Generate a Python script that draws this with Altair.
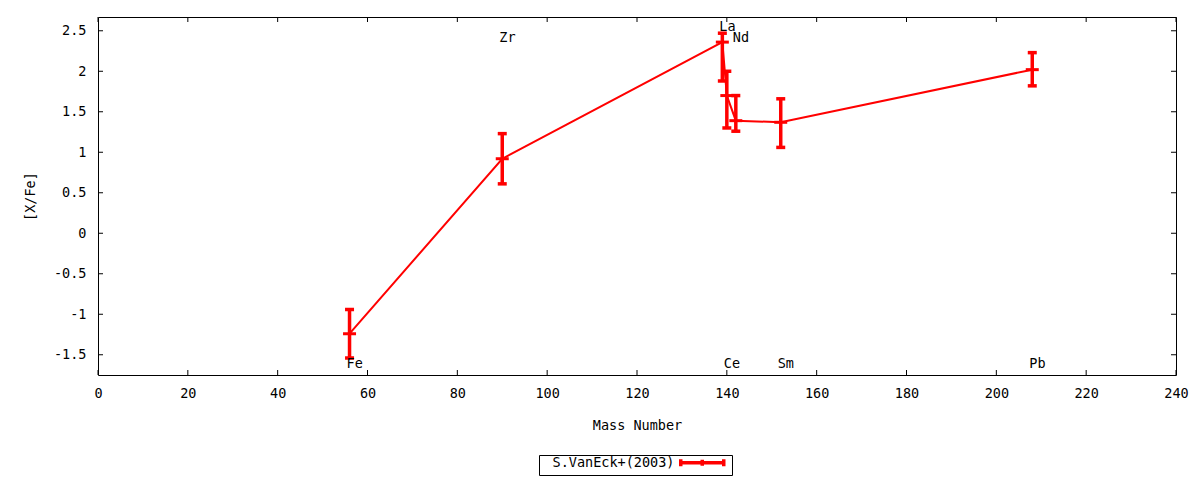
import altair as alt
import pandas as pd

# S.VanEck+(2003) abundances
elements = ["Fe", "Zr", "La", "Ce", "Nd", "Sm", "Pb"]
mass = [56, 90, 139, 140, 142, 152, 208]
xfe = [-1.24, 0.92, 2.36, 1.70, 1.39, 1.37, 2.02]
err_low = [-1.54, 0.61, 1.88, 1.30, 1.26, 1.06, 1.82]
err_high = [-0.94, 1.23, 2.47, 2.00, 1.70, 1.66, 2.23]

# element labels (data coordinates)
label_text = ["Fe", "Zr", "La", "Nd", "Ce", "Sm", "Pb"]
label_x = [56, 90, 139, 142, 140, 152, 208]
label_y = [-1.62, 2.41, 2.55, 2.41, -1.62, -1.62, -1.62]

x_ticks = [0, 20, 40, 60, 80, 100, 120, 140, 160, 180, 200, 220, 240]
y_ticks = [-1.5, -1, -0.5, 0, 0.5, 1, 1.5, 2, 2.5]

W, H = 1078, 358
RED = "#ff0000"
FONT = "DejaVu Sans Mono"
FS = 13.5

df = pd.DataFrame({
    "el": elements, "A": mass, "val": xfe,
    "lo": err_low, "hi": err_high,
    "series": "S.VanEck+(2003)",
})
labels = pd.DataFrame({"t": label_text, "A": label_x, "val": label_y})
xt = pd.DataFrame({"A": x_ticks})
yt = pd.DataFrame({"val": y_ticks})

xscale = alt.Scale(domain=[0, 240], nice=False, zero=False)
yscale = alt.Scale(domain=[-1.75, 2.67], nice=False, zero=False)
xaxis = alt.Axis(values=x_ticks, title="Mass Number", grid=False, ticks=False,
                 tickSize=0, domain=False, labelPadding=11, titlePadding=19,
                 labelFlush=False)
yaxis = alt.Axis(values=y_ticks, title="[X/Fe]", grid=False, ticks=False,
                 tickSize=0, domain=False, labelPadding=12, titlePadding=16,
                 labelExpr="datum.value", labelFlush=False)


def X(f="A"):
    return alt.X(f"{f}:Q", scale=xscale, axis=xaxis)


def Y(f="val"):
    return alt.Y(f"{f}:Q", scale=yscale, axis=yaxis)


base = alt.Chart(df)

# legend sample: an error-bar line, placed to the right of the label
legend_symbol = "M-21.5,0H21.5M-21.5,-3.5V3.5M21.5,-3.5V3.5M0,-3V3"

line = base.mark_line(strokeWidth=2).encode(
    x=X(), y=Y(),
    color=alt.Color("series:N", scale=alt.Scale(range=[RED]),
                    legend=alt.Legend(
                        title=None, orient="none", legendX=441, legendY=438,
                        strokeColor="black", padding=1,
                        labelOffset={"expr": "-156.5"}, symbolOffset=155.5,
                        symbolType=legend_symbol, symbolSize=4,
                        symbolStrokeWidth=3.5, symbolStrokeColor=RED,
                        symbolFillColor="transparent",
                        labelFont=FONT, labelFontSize=FS, labelColor="black",
                    )),
)

bars = base.mark_rule(strokeWidth=3.5, color=RED).encode(
    x=X(), y=Y("lo"), y2="hi:Q"
)
cap_lo = base.mark_tick(orient="horizontal", size=9, thickness=3.5,
                        color=RED, opacity=1).encode(x=X(), y=Y("lo"))
cap_hi = base.mark_tick(orient="horizontal", size=9, thickness=3.5,
                        color=RED, opacity=1).encode(x=X(), y=Y("hi"))
pts = base.mark_tick(orient="horizontal", size=13, thickness=3,
                     color=RED, opacity=1).encode(x=X(), y=Y())

text = alt.Chart(labels).mark_text(
    align="left", baseline="middle", dx=-3, font=FONT, fontSize=FS, color="black"
).encode(x=X(), y=Y(), text="t:N")

# inward ticks on all four sides
tb = alt.Chart(xt).mark_rule(color="black").encode(
    x=X(), y=alt.value(H), y2=alt.value(H - 5))
tt = alt.Chart(xt).mark_rule(color="black").encode(
    x=X(), y=alt.value(0), y2=alt.value(5))
tl = alt.Chart(yt).mark_rule(color="black").encode(
    y=Y(), x=alt.value(0), x2=alt.value(5))
tr = alt.Chart(yt).mark_rule(color="black").encode(
    y=Y(), x=alt.value(W), x2=alt.value(W - 5))

chart = (
    alt.layer(tb, tt, tl, tr, line, bars, cap_lo, cap_hi, pts, text)
    .properties(
        width=W, height=H,
        autosize=alt.AutoSizeParams(type="none"),
        padding={"left": 90, "top": 9, "right": 16, "bottom": 105},
    )
    .configure_view(stroke="black", strokeWidth=1)
    .configure_axis(labelFont=FONT, titleFont=FONT, labelFontSize=FS,
                    titleFontSize=FS, titleFontWeight="normal",
                    labelColor="black", titleColor="black")
)

chart.save("out.html", embed_options={"renderer": "svg", "actions": False})
